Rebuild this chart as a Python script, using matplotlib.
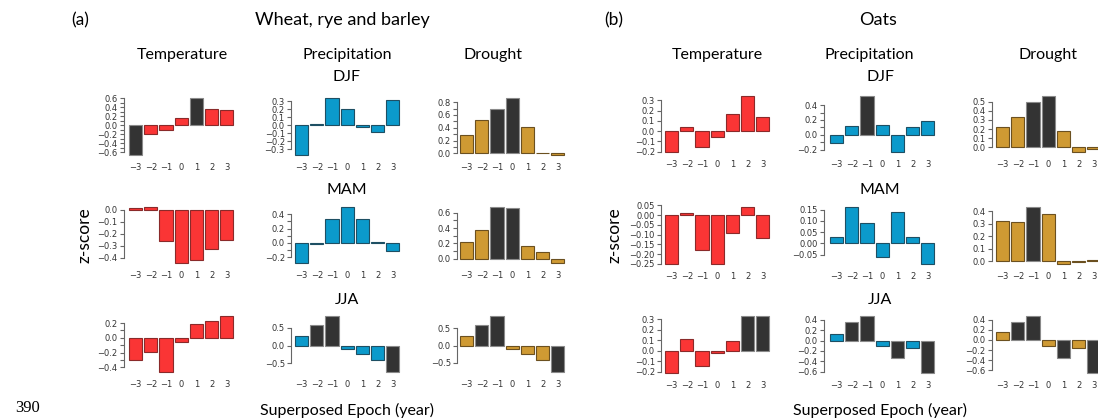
import matplotlib
matplotlib.use('Agg')
import matplotlib.pyplot as plt

# ==========================================
# 1. Data (z-scores)
# ==========================================
YEARS = [-3, -2, -1, 0, 1, 2, 3]

# (a) Wheat, rye and barley
wheat_temp_djf = [-0.65, -0.19, -0.10, 0.17, 0.60, 0.37, 0.33]
wheat_temp_djf_sig = [1, 0, 0, 0, 1, 0, 0]
wheat_prec_djf = [-0.37, 0.02, 0.34, 0.20, -0.02, -0.09, 0.32]
wheat_prec_djf_sig = [0, 0, 0, 0, 0, 0, 0]
wheat_drou_djf = [0.29, 0.52, 0.70, 0.86, 0.41, 0.01, -0.02]
wheat_drou_djf_sig = [0, 0, 1, 1, 0, 0, 0]

wheat_temp_mam = [0.01, 0.02, -0.26, -0.44, -0.42, -0.33, -0.25]
wheat_temp_mam_sig = [0, 0, 0, 0, 0, 0, 0]
wheat_prec_mam = [-0.28, -0.01, 0.33, 0.50, 0.33, 0.01, -0.12]
wheat_prec_mam_sig = [0, 0, 0, 0, 0, 0, 0]
wheat_drou_mam = [0.22, 0.37, 0.67, 0.66, 0.17, 0.09, -0.05]
wheat_drou_mam_sig = [0, 0, 1, 1, 0, 0, 0]

wheat_temp_jja = [-0.30, -0.19, -0.46, -0.06, 0.19, 0.23, 0.30]
wheat_temp_jja_sig = [0, 0, 0, 0, 0, 0, 0]
wheat_prec_jja = [0.28, 0.58, 0.84, -0.10, -0.25, -0.42, -0.74]
wheat_prec_jja_sig = [0, 1, 1, 0, 0, 0, 1]
wheat_drou_jja = [0.29, 0.60, 0.87, -0.10, -0.24, -0.41, -0.76]
wheat_drou_jja_sig = [0, 1, 1, 0, 0, 0, 1]

# (b) Oats
oats_temp_djf = [-0.20, 0.04, -0.15, -0.06, 0.17, 0.34, 0.14]
oats_temp_djf_sig = [0, 0, 0, 0, 0, 0, 0]
oats_prec_djf = [-0.11, 0.12, 0.52, 0.13, -0.23, 0.11, 0.19]
oats_prec_djf_sig = [0, 0, 1, 0, 0, 0, 0]
oats_drou_djf = [0.22, 0.33, 0.50, 0.56, 0.18, -0.05, -0.02]
oats_drou_djf_sig = [0, 0, 1, 1, 0, 0, 0]

oats_temp_mam = [-0.25, 0.01, -0.18, -0.25, -0.09, 0.04, -0.12]
oats_temp_mam_sig = [0, 0, 0, 0, 0, 0, 0]
oats_prec_mam = [0.03, 0.16, 0.09, -0.06, 0.14, 0.03, -0.09]
oats_prec_mam_sig = [0, 0, 0, 0, 0, 0, 0]
oats_drou_mam = [0.32, 0.31, 0.43, 0.38, -0.02, -0.01, 0.01]
oats_drou_mam_sig = [0, 0, 1, 0, 0, 0, 0]

oats_temp_jja = [-0.21, 0.11, -0.15, -0.02, 0.09, 0.33, 0.33]
oats_temp_jja_sig = [0, 0, 0, 0, 0, 1, 1]
oats_prec_jja = [0.12, 0.36, 0.47, -0.11, -0.33, -0.15, -0.62]
oats_prec_jja_sig = [0, 1, 1, 0, 1, 0, 1]
oats_drou_jja = [0.15, 0.35, 0.47, -0.12, -0.35, -0.15, -0.65]
oats_drou_jja_sig = [0, 1, 1, 0, 1, 0, 1]

# y tick positions, label every n-th tick (counted from the top), decimals
wheat_ticks = {
    'temp_djf': ([-0.6, -0.5, -0.4, -0.3, -0.2, -0.1, 0.0, 0.1, 0.2, 0.3, 0.4, 0.5, 0.6], 2, 1),
    'prec_djf': ([-0.3, -0.2, -0.1, 0.0, 0.1, 0.2, 0.3], 1, 1),
    'drou_djf': ([0.0, 0.1, 0.2, 0.3, 0.4, 0.5, 0.6, 0.7, 0.8], 2, 1),
    'temp_mam': ([-0.4, -0.3, -0.2, -0.1, 0.0], 1, 1),
    'prec_mam': ([-0.2, -0.1, 0.0, 0.1, 0.2, 0.3, 0.4], 2, 1),
    'drou_mam': ([0.0, 0.1, 0.2, 0.3, 0.4, 0.5, 0.6], 2, 1),
    'temp_jja': ([-0.4, -0.3, -0.2, -0.1, 0.0, 0.1, 0.2], 2, 1),
    'prec_jja': ([-0.5, 0.0, 0.5], 1, 1),
    'drou_jja': ([-0.5, 0.0, 0.5], 1, 1),
}
oats_ticks = {
    'temp_djf': ([-0.2, -0.1, 0.0, 0.1, 0.2, 0.3], 1, 1),
    'prec_djf': ([-0.2, -0.1, 0.0, 0.1, 0.2, 0.3, 0.4], 2, 1),
    'drou_djf': ([0.0, 0.1, 0.2, 0.3, 0.4, 0.5], 1, 1),
    'temp_mam': ([-0.25, -0.20, -0.15, -0.10, -0.05, 0.00, 0.05], 1, 2),
    'prec_mam': ([-0.05, 0.00, 0.05, 0.10, 0.15], 1, 2),
    'drou_mam': ([0.0, 0.1, 0.2, 0.3, 0.4], 1, 1),
    'temp_jja': ([-0.2, -0.1, 0.0, 0.1, 0.2, 0.3], 1, 1),
    'prec_jja': ([-0.6, -0.4, -0.2, 0.0, 0.2, 0.4], 1, 1),
    'drou_jja': ([-0.6, -0.4, -0.2, 0.0, 0.2, 0.4], 1, 1),
}

# ==========================================
# 2. Style / layout
# ==========================================
W, H = 1098, 418
COLORS = {'temp': ('#FA3535', '#8a2a2a'),
          'prec': ('#0B9ACB', '#1e4f63'),
          'drou': ('#CF9A33', '#6b5020')}
DARK = ('#333333', '#8a8a8a')
TEXT_FONT = ['Lato', 'DejaVu Sans']
PITCH = 15.2
MINUS = '\u2212'

fig = plt.figure(figsize=(W / 100, H / 100), dpi=100)


def add_px_axes(x, y, w, h):
    return fig.add_axes([x / W, 1 - (y + h) / H, w / W, h / H])


def bar_panel(spine_x, bar_left, top, bottom, values, sig, var, ticks):
    left = -3 - (bar_left + 6.6 - spine_x) / PITCH
    right = 3.6
    ax = add_px_axes(spine_x, top, (right - left) * PITCH, bottom - top)
    face, edge = COLORS[var]
    fc = [DARK[0] if s else face for s in sig]
    ec = [DARK[1] if s else edge for s in sig]
    ax.bar(YEARS, values, width=0.87, color=fc, edgecolor=ec, linewidth=0.8)

    lo, hi = min(min(values), 0), max(max(values), 0)
    pad = (hi - lo) * 0.04
    ax.set_ylim(lo - pad, hi + pad)
    ax.set_xlim(left, right)

    tvals, every, dec = ticks
    n = len(tvals)
    labs = [f'{t:.{dec}f}'.replace('-', MINUS) if (n - 1 - i) % every == 0 else ''
            for i, t in enumerate(tvals)]
    ax.set_yticks(tvals)
    ax.set_yticklabels(labs)
    ax.set_xticks(YEARS)
    ax.set_xticklabels([str(y).replace('-', MINUS) for y in YEARS])

    for s in ['top', 'right', 'bottom']:
        ax.spines[s].set_visible(False)
    ax.spines['left'].set_bounds(min(tvals), max(tvals))
    ax.spines['left'].set_color('#666666')
    ax.spines['left'].set_linewidth(0.8)
    ax.tick_params(axis='y', length=3, width=0.8, color='#666666', pad=1.5,
                   labelsize=6, labelcolor='#333333')
    ax.tick_params(axis='x', length=0, pad=4.5, labelsize=6, labelcolor='#333333')
    ax.patch.set_alpha(0)
    return ax


groups = [
    ('wheat', [(124, 129, 'temp'), (291, 295, 'prec'), (457, 460, 'drou')],
     [(96, 157), (205, 265), (313.5, 374)], wheat_ticks),
    ('oats', [(661, 665, 'temp'), (824, 830, 'prec'), (992, 996, 'drou')],
     [(94, 154), (205, 266), (314, 375)], oats_ticks),
]
seasons = ['djf', 'mam', 'jja']
for crop, cols, rows, tick_map in groups:
    for (top, bottom), season in zip(rows, seasons):
        for spine_x, bar_left, var in cols:
            key = f'{var}_{season}'
            vals = globals()[f'{crop}_{key}']
            sig = globals()[f'{crop}_{key}_sig']
            bar_panel(spine_x, bar_left, top, bottom, vals, sig, var, tick_map[key])


def ptext(x, y, s, size, family=TEXT_FONT, **kw):
    fig.text(x / W, 1 - y / H, s, fontsize=size, family=family,
             ha='center', va='center', **kw)


# ==========================================
# 3. Labels
# ==========================================
headers = [
    # panel tag, tag x, title, title x, column title xs, season x, z-score x
    ('(a)', 80, 'Wheat, rye and barley', 342, (182, 347, 493), 347, 85),
    ('(b)', 614, 'Oats', 878, (717, 869, 1048), 880, 615),
]
for tag, tag_x, title, title_x, cols_x, season_x, zx in headers:
    ptext(tag_x, 20, tag, 12.5)
    ptext(title_x, 20, title, 13)
    for x, t in zip(cols_x, ['Temperature', 'Precipitation', 'Drought']):
        ptext(x, 55, t, 11.5)
    for y, t in zip([77, 190, 300], ['DJF', 'MAM', 'JJA']):
        ptext(season_x, y, t, 11.5)
    ptext(zx, 235, 'z-score', 12.5, rotation=90)
    ptext(season_x, 410, 'Superposed Epoch (year)', 11.5)

ptext(28, 408, '390', 12, family='Liberation Serif')

plt.savefig('out.png', dpi=100)
